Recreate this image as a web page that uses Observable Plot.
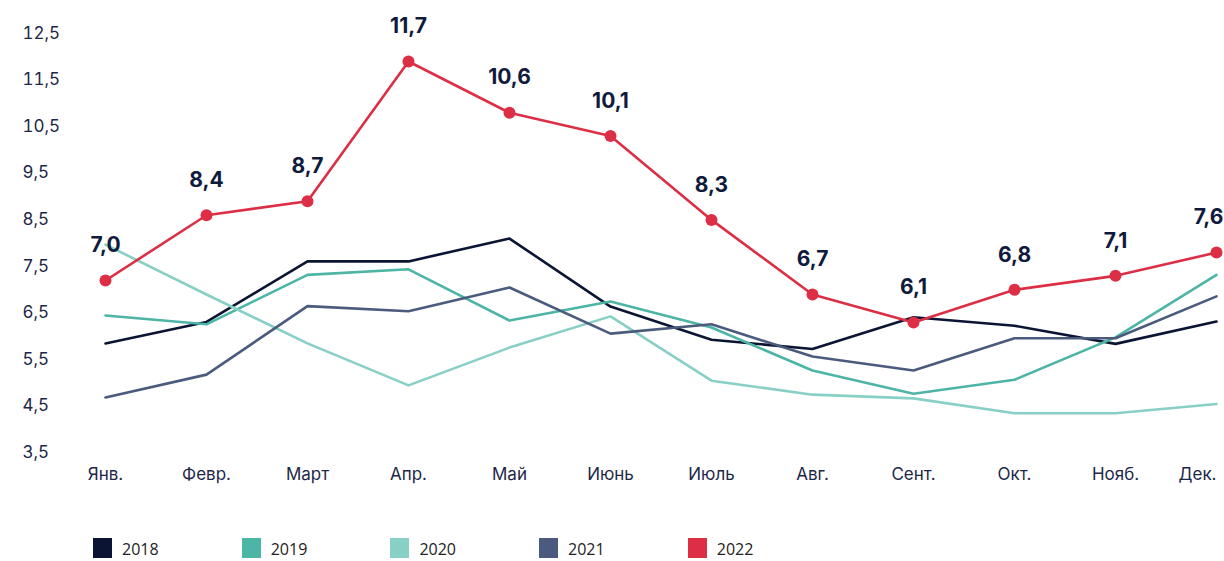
<!DOCTYPE html>
<html>
<head>
<meta charset="utf-8">
<script src="https://cdn.jsdelivr.net/npm/d3@7"></script>
<script src="https://cdn.jsdelivr.net/npm/@observablehq/plot@0.6"></script>
<style>
  html, body { margin: 0; padding: 0; background: #fff; }
  #chart svg { display: block; }
  #legend { display: flex; align-items: center; height: 61px; box-sizing: border-box; padding-left: 93px; padding-top: 37px; padding-bottom: 3px; font-family: "Open Sans", sans-serif; font-size: 16px; color: #222; }
  .item { display: flex; align-items: center; width: 148.7px; }
  .sw { width: 19px; height: 20px; margin-right: 10px; flex: none; }
  .lab { line-height: 22px; padding-top: 3px; }
</style>
</head>
<body>
<div id="chart"></div>
<div id="legend"></div>
<script>
const months = ["Янв.","Февр.","Март","Апр.","Май","Июнь","Июль","Авг.","Сент.","Окт.","Нояб.","Дек."];
const years = ["2018","2019","2020","2021","2022"];
const v2018 = [5.65, 6.11, 7.41, 7.41, 7.90, 6.44, 5.73, 5.53, 6.21, 6.03, 5.64, 6.12];
const v2019 = [6.25, 6.06, 7.12, 7.24, 6.14, 6.55, 5.99, 5.07, 4.57, 4.87, 5.78, 7.12];
const v2020 = [7.77, 6.70, 5.65, 4.75, 5.56, 6.23, 4.85, 4.55, 4.47, 4.15, 4.15, 4.35];
const v2021 = [4.49, 4.98, 6.45, 6.34, 6.85, 5.86, 6.06, 5.37, 5.07, 5.76, 5.76, 6.66];
const v2022 = [7.0, 8.4, 8.7, 11.7, 10.6, 10.1, 8.3, 6.7, 6.1, 6.8, 7.1, 7.6];
const yTicks = [12.5, 11.5, 10.5, 9.5, 8.5, 7.5, 6.5, 5.5, 4.5, 3.5];
const colors = ["#0b1533", "#4cb5a5", "#88cfc5", "#4a5b7d", "#dc2f45"];

const series = [v2018, v2019, v2020, v2021, v2022];
const rows = years.flatMap((yr, j) => months.map((m, i) => ({year: yr, month: m, value: series[j][i], i})));
const rows2022 = rows.filter(d => d.year === "2022");
const fmt = v => v.toFixed(1).replace(".", ",");
const axisStyle = {tickSize: 0, tickPadding: 24, fontSize: 17, fill: "#1e2747", label: null};

const chart = Plot.plot({
  width: 1224,
  height: 500,
  marginLeft: 104,
  marginRight: 8,
  marginTop: 23.7,
  marginBottom: 56.9,
  x: {type: "point", domain: months, padding: 0, label: null},
  y: {domain: [3.5, 12.5], label: null},
  color: {domain: years, range: colors},
  style: {fontFamily: "Inter, sans-serif", color: "#1e2747", background: "#fff"},
  marks: [
    Plot.axisY(yTicks, {tickSize: 0, tickPadding: 0, textAnchor: "start", dx: -82, dy: 9, tickFormat: fmt, fontSize: 17, fill: "#1e2747", label: null}),
    Plot.axisX(months.slice(0, 11), axisStyle),
    Plot.axisX(months.slice(11), {...axisStyle, textAnchor: "end", dx: 0}),
    Plot.line(rows, {x: "month", y: "value", z: "year", stroke: "year", strokeWidth: 2.6}),
    Plot.dot(rows2022, {x: "month", y: "value", r: 6, fill: colors[4]}),
    Plot.text(rows2022.filter(d => d.i < 11), {x: "month", y: "value", text: d => fmt(d.value), dy: -35, fontSize: 21, fontWeight: 700, fill: "#0f1a3c"}),
    Plot.text(rows2022.filter(d => d.i === 11), {x: "month", y: "value", text: d => fmt(d.value), dy: -35, dx: -8, fontSize: 21, fontWeight: 700, fill: "#0f1a3c"})
  ]
});
document.getElementById("chart").appendChild(chart);

const legend = document.getElementById("legend");
years.forEach((yr, j) => {
  const it = document.createElement("div");
  it.className = "item";
  const sw = document.createElement("span");
  sw.className = "sw";
  sw.style.background = colors[j];
  const lab = document.createElement("span");
  lab.className = "lab";
  lab.textContent = yr;
  it.appendChild(sw);
  it.appendChild(lab);
  legend.appendChild(it);
});
</script>
</body>
</html>
